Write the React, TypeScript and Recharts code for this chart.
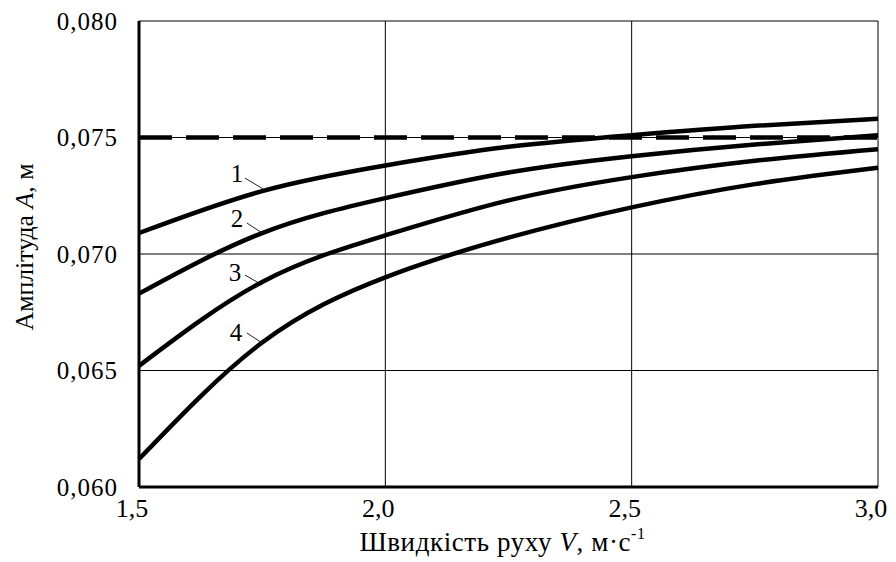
import React from 'react'
import { LineChart, Line, XAxis, YAxis, CartesianGrid, ReferenceLine, ReferenceDot, Label } from 'recharts'

// speed V, m/s
const speeds = [1.5, 1.75, 2.0, 2.25, 2.5, 2.75, 3.0]

// amplitude A, m for curves 1..4
const curve1 = [0.0709, 0.0727, 0.0738, 0.0746, 0.0751, 0.0755, 0.0758]
const curve2 = [0.0683, 0.0709, 0.0724, 0.0735, 0.0742, 0.0747, 0.0751]
const curve3 = [0.0652, 0.0688, 0.0708, 0.0723, 0.0733, 0.074, 0.0745]
const curve4 = [0.0612, 0.0662, 0.069, 0.0707, 0.072, 0.073, 0.0737]

const limitA = 0.075

const xTicks = [1.5, 2.0, 2.5, 3.0]
const yTicks = [0.06, 0.065, 0.07, 0.075, 0.08]

// curve number labels and their leader lines (data coords)
const curveLabels = [
  { text: '1', x: 1.699, y: 0.07348, from: { x: 1.715, y: 0.07326 }, to: { x: 1.752, y: 0.07279 } },
  { text: '2', x: 1.699, y: 0.07155, from: { x: 1.719, y: 0.07133 }, to: { x: 1.75, y: 0.0709 } },
  { text: '3', x: 1.695, y: 0.06923, from: { x: 1.715, y: 0.0691 }, to: { x: 1.75, y: 0.06867 } },
  { text: '4', x: 1.697, y: 0.06665, from: { x: 1.719, y: 0.06661 }, to: { x: 1.75, y: 0.06618 } },
]

const data = speeds.map((v, i) => ({
  v,
  c1: curve1[i],
  c2: curve2[i],
  c3: curve3[i],
  c4: curve4[i],
}))

const FONT = '"Liberation Serif", "Times New Roman", serif'

const comma = (n: number, d: number) => n.toFixed(d).replace('.', ',')

function XTitle(props: any) {
  const vb = props.viewBox
  const cx = vb.x + vb.width / 2 - 6
  return (
    <text x={cx} y={vb.y + 64} textAnchor="middle" fontFamily={FONT} fontSize={27} letterSpacing={0.6} fill="#000">
      Швидкість руху{'  '}
      <tspan fontStyle="italic">V</tspan>, м·с
      <tspan dy={-12} fontSize={16}>
        -1
      </tspan>
    </text>
  )
}

function YTitle(props: any) {
  const vb = props.viewBox
  const cx = 24
  const cy = vb.y + vb.height / 2 - 7
  return (
    <text
      x={cx}
      y={cy}
      transform={`rotate(-90 ${cx} ${cy})`}
      textAnchor="middle"
      dominantBaseline="central"
      fontFamily={FONT}
      fontSize={25}
      fill="#000"
      textLength={167}
      lengthAdjust="spacingAndGlyphs"
    >
      Амплітуда{'  '}
      <tspan fontStyle="italic">A</tspan>, м
    </text>
  )
}

export default function App() {
  return (
    <div style={{ position: 'absolute', left: 0, top: 0, background: '#fff' }}>
      <LineChart width={896} height={562} data={data} margin={{ top: 21, right: 18, bottom: 0, left: 0 }}>
        <CartesianGrid stroke="#000" strokeWidth={1} />
        <XAxis
          dataKey="v"
          type="number"
          domain={[1.5, 3.0]}
          ticks={xTicks}
          tickFormatter={(t: number) => comma(t, 1)}
          height={75}
          tickSize={0}
          tickMargin={12}
          axisLine={{ stroke: '#000', strokeWidth: 3 }}
          tickLine={false}
          tick={{ fill: '#000', fontSize: 26, fontFamily: FONT, dx: -7 }}
          interval={0}
        >
          <Label content={XTitle} />
        </XAxis>
        <YAxis
          type="number"
          domain={[0.06, 0.08]}
          ticks={yTicks}
          tickFormatter={(t: number) => comma(t, 3)}
          width={139}
          tickSize={0}
          tickMargin={21}
          axisLine={{ stroke: '#000', strokeWidth: 3 }}
          tickLine={false}
          tick={{ fill: '#000', fontSize: 25, fontFamily: FONT, letterSpacing: 1 }}
          interval={0}
        >
          <Label content={YTitle} />
        </YAxis>
        <ReferenceLine y={limitA} stroke="#000" strokeWidth={4.5} strokeDasharray="33 14" />
        {curveLabels.map((c) => (
          <ReferenceLine
            key={'seg' + c.text}
            segment={[c.from, c.to]}
            stroke="#222"
            strokeWidth={1}
          />
        ))}
        {curveLabels.map((c) => (
          <ReferenceDot
            key={'lbl' + c.text}
            x={c.x}
            y={c.y}
            r={0}
            fill="none"
            stroke="none"
            label={{ value: c.text, position: 'center', fill: '#000', fontSize: 25, fontFamily: FONT }}
          />
        ))}
        <Line type="natural" dataKey="c1" stroke="#000" strokeWidth={4.5} dot={false} isAnimationActive={false} />
        <Line type="natural" dataKey="c2" stroke="#000" strokeWidth={4.5} dot={false} isAnimationActive={false} />
        <Line type="natural" dataKey="c3" stroke="#000" strokeWidth={4.5} dot={false} isAnimationActive={false} />
        <Line type="natural" dataKey="c4" stroke="#000" strokeWidth={4.5} dot={false} isAnimationActive={false} />
      </LineChart>
    </div>
  )
}
